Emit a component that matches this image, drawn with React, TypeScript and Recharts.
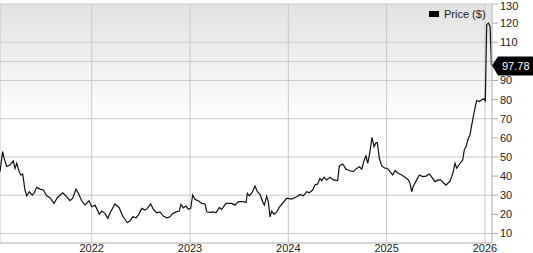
import { LineChart, Line, XAxis, YAxis, CartesianGrid, ReferenceDot } from 'recharts';

// x values are fractional years, prices in $
const years = [
  2021.067, 2021.094, 2021.108, 2021.135, 2021.169, 2021.202, 2021.22, 2021.237, 2021.263, 2021.278,
  2021.298, 2021.321, 2021.339, 2021.365, 2021.396, 2021.413, 2021.44, 2021.474, 2021.508, 2021.542,
  2021.576, 2021.616, 2021.65, 2021.705, 2021.738, 2021.779, 2021.807, 2021.84, 2021.864, 2021.898,
  2021.932, 2021.972, 2022.0, 2022.034, 2022.077, 2022.102, 2022.135, 2022.163, 2022.193, 2022.237,
  2022.278, 2022.315, 2022.362, 2022.39, 2022.417, 2022.451, 2022.474, 2022.509, 2022.542, 2022.566,
  2022.6, 2022.627, 2022.661, 2022.695, 2022.728, 2022.763, 2022.796, 2022.824, 2022.857, 2022.891,
  2022.908, 2022.932, 2022.959, 2022.983, 2023.007, 2023.027, 2023.051, 2023.084, 2023.119, 2023.153,
  2023.17, 2023.203, 2023.237, 2023.264, 2023.298, 2023.322, 2023.366, 2023.424, 2023.458, 2023.491,
  2023.542, 2023.57, 2023.583, 2023.603, 2023.631, 2023.661, 2023.685, 2023.712, 2023.739, 2023.756,
  2023.78, 2023.796, 2023.814, 2023.831, 2023.854, 2023.882, 2023.908, 2023.984, 2024.034, 2024.085,
  2024.119, 2024.152, 2024.187, 2024.213, 2024.248, 2024.271, 2024.299, 2024.322, 2024.34, 2024.363,
  2024.39, 2024.424, 2024.458, 2024.502, 2024.519, 2024.553, 2024.587, 2024.627, 2024.661, 2024.696,
  2024.722, 2024.747, 2024.77, 2024.79, 2024.808, 2024.831, 2024.851, 2024.872, 2024.892, 2024.905,
  2024.926, 2024.95, 2024.984, 2025.007, 2025.034, 2025.062, 2025.085, 2025.119, 2025.154, 2025.187,
  2025.221, 2025.238, 2025.255, 2025.272, 2025.306, 2025.333, 2025.367, 2025.401, 2025.434, 2025.459,
  2025.492, 2025.526, 2025.55, 2025.577, 2025.604, 2025.628, 2025.645, 2025.662, 2025.678, 2025.696,
  2025.713, 2025.747, 2025.774, 2025.79, 2025.808, 2025.831, 2025.848, 2025.866, 2025.882, 2025.899,
  2025.916, 2025.943, 2025.967, 2025.991, 2026.004, 2026.018, 2026.035, 2026.052, 2026.067,
];

const prices = [
  42.3, 52.8, 49.5, 45, 45.8, 48, 44, 46.7, 42.3, 40.6,
  41, 32.7, 29.7, 31.8, 30, 31, 34.1, 33.2, 32.7, 29.7,
  28.7, 25.7, 28.7, 31.3, 29.6, 27.1, 28.4, 33.2, 31, 27.1,
  24.8, 27.1, 24, 24.8, 20.1, 21.7, 20.5, 17.9, 21.3, 25.4,
  23.6, 19.1, 15.6, 16.6, 18.7, 18.2, 19.6, 23.1, 22.2, 23.1,
  25.4, 22.6, 20.8, 21.3, 19.1, 18.2, 18.7, 20.5, 21.3, 21.7,
  25.2, 23.4, 24.3, 22.6, 23.1, 30.1, 27.8, 27.1, 25.7, 25.4,
  21.3, 21, 21.3, 20.8, 23.6, 22.6, 25.7, 25.7, 24.8, 26.6,
  26.6, 26.2, 31, 29.7, 31.3, 34.8, 31.8, 30.4, 26.6, 24.8,
  29.5, 26.6, 18.7, 21.7, 20, 21.3, 23.6, 28.4, 28, 29.2,
  30.4, 29.7, 31.8, 31.3, 32.7, 35.3, 35.9, 38.8, 37.6, 39.4,
  38, 39.4, 38, 37.6, 45.3, 46.3, 43.6, 42.8, 42.3, 44,
  44.9, 43.6, 48.1, 50.5, 46.7, 52.8, 60.3, 55.4, 57.5, 57.5,
  49.3, 45.3, 44.1, 44.1, 42.3, 40.6, 42.8, 41.5, 40.6, 39.4,
  38, 36.2, 31.8, 34.8, 38, 40.6, 39.7, 40, 41.1, 39.4,
  37.1, 38, 38, 36.5, 35.3, 36.5, 37.4, 39.7, 42.3, 46.7,
  44.1, 46.7, 48.4, 53.7, 55.4, 59.8, 61.5, 66.8, 71.1, 75.5,
  79.5, 79, 79.9, 80.4, 79.4, 119.2, 120.1, 118.3, 97.78,
];

const yearTicks = [2022, 2023, 2024, 2025, 2026];
const priceTicks = [10, 20, 30, 40, 50, 60, 70, 80, 90, 100, 110, 120, 130];
const lastPrice = 97.78;

const data = years.map((t, i) => ({ t, price: prices[i] }));
const FONT = '"Liberation Sans", Arial, sans-serif';
const tick = { fill: '#222', fontSize: 11, fontFamily: FONT };

// the last-price tag sits over the axis label it covers
const PriceTag = (props: any) => {
  const { cx, cy } = props;
  const x0 = cx + 0.5;
  return (
    <g>
      <polygon
        points={`${x0},${cy} ${x0 + 6},${cy - 9} ${533},${cy - 9} ${533},${cy + 10} ${x0 + 6},${cy + 10}`}
        fill="#000"
      />
      <text x={x0 + 10} y={cy + 4.5} fill="#fff" fontSize={11} fontFamily={FONT}>
        {lastPrice.toFixed(2)}
      </text>
    </g>
  );
};

export default function App() {
  return (
    <div style={{ position: 'fixed', left: 0, top: 0, width: 533, height: 253, background: '#fff' }}>
      <LineChart width={533} height={253} data={data} margin={{ top: 4, right: 0, bottom: 0, left: 0 }}>
        <defs>
          <linearGradient id="bg" x1="0" y1="0" x2="0" y2="1">
            <stop offset="0%" stopColor="#e2e2e2" />
            <stop offset="50%" stopColor="#ffffff" />
            <stop offset="100%" stopColor="#ffffff" />
          </linearGradient>
        </defs>
        <CartesianGrid stroke="#c8c8c8" fill="url(#bg)" />
        <XAxis
          dataKey="t"
          type="number"
          domain={[2021.067, 2026.072]}
          ticks={yearTicks}
          tickFormatter={(v) => String(v)}
          allowDataOverflow
          height={10}
          tickSize={0}
          tickMargin={1}
          tick={tick}
          axisLine={{ stroke: '#c8c8c8' }}
        />
        <YAxis
          orientation="right"
          domain={[5, 130]}
          ticks={priceTicks}
          tickFormatter={(v) => (Math.abs(v - lastPrice) < 5 ? '' : String(v))}
          allowDataOverflow
          width={41}
          tickSize={6}
          tickMargin={2}
          tick={{ ...tick, textAnchor: 'start' }}
          axisLine={{ stroke: '#c8c8c8' }}
          tickLine={{ stroke: '#aaa' }}
        />
        <Line
          type="linear"
          dataKey="price"
          stroke="#111"
          strokeWidth={1.2}
          dot={false}
          isAnimationActive={false}
        />
        <ReferenceDot x={years[years.length - 1]} y={lastPrice} shape={PriceTag} />
      </LineChart>
      <div
        style={{
          position: 'absolute', left: 429, top: 7, display: 'flex', alignItems: 'center',
          fontFamily: FONT, fontSize: 11, color: '#222', lineHeight: '14px',
        }}
      >
        <span style={{ display: 'inline-block', width: 10, height: 6, background: '#000', marginRight: 5 }} />
        Price ($)
      </div>
    </div>
  );
}
